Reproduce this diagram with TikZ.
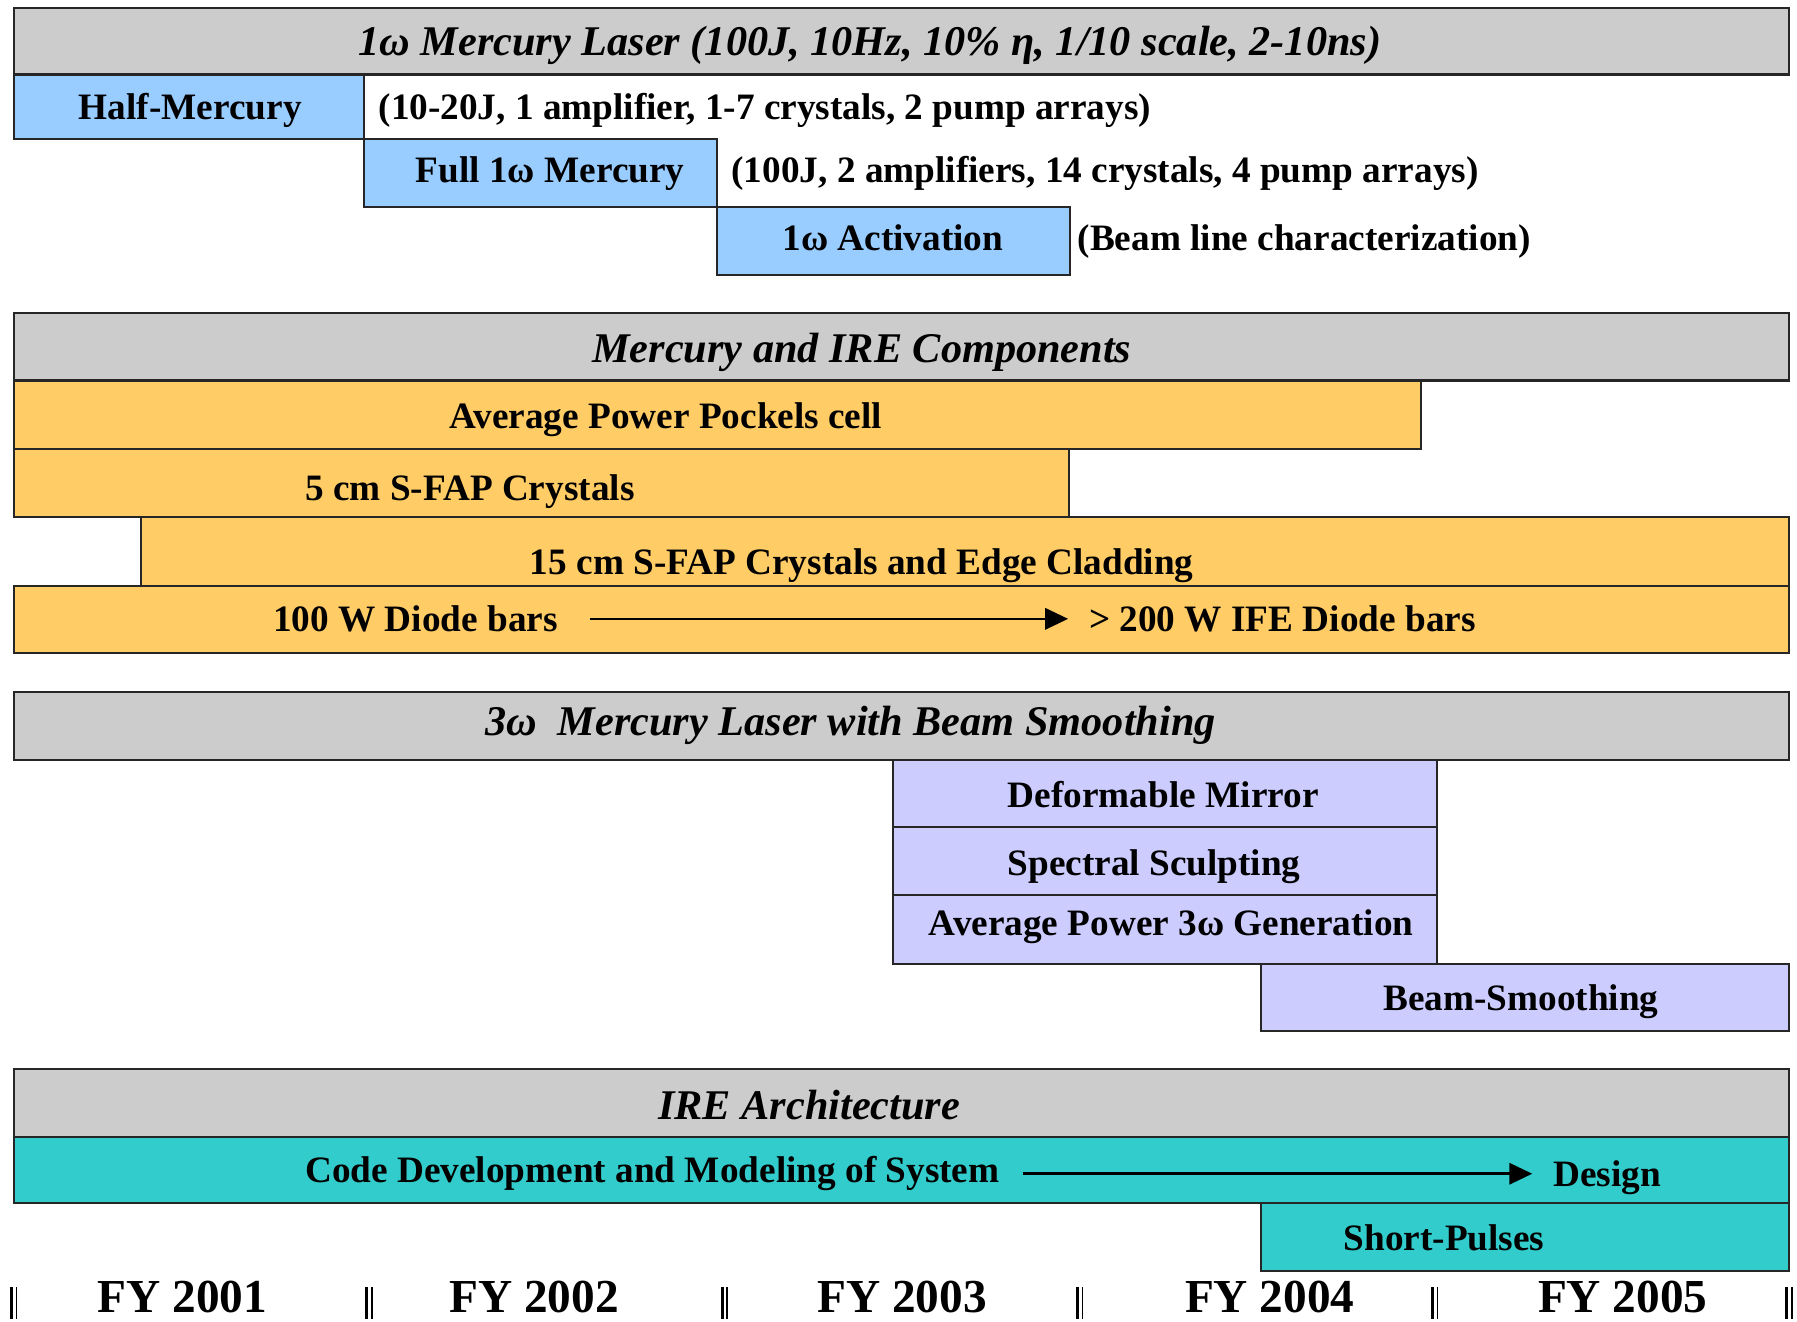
\documentclass[tikz,border=0pt]{standalone}
\usepackage{fontspec}
\setmainfont{Liberation Serif}
\usepackage{tikz}
\usepackage{xcolor}
\usetikzlibrary{
    arrows.meta,
    calc,
    positioning
}
\definecolor{hdrgray}{RGB}{204,204,204}
\definecolor{laserblue}{RGB}{153,204,255}
\definecolor{partorange}{RGB}{255,204,102}
\definecolor{optlilac}{RGB}{204,204,255}
\definecolor{codeteal}{RGB}{51,204,204}

\begin{document}
\begin{tikzpicture}[x=0.02cm, y=-0.02cm,
        titlebox/.style={draw=black!85, line width=1pt, fill=hdrgray},
        laserbox/.style={draw=black!85, line width=1pt, fill=laserblue},
        partbox/.style={draw=black!85, line width=1pt, fill=partorange},
        optbox/.style={draw=black!85, line width=1pt, fill=optlilac},
        codebox/.style={draw=black!85, line width=1pt, fill=codeteal},
        ttl/.style={anchor=base, inner sep=0pt, font=\bfseries\itshape\fontsize{21}{25}\selectfont},
        txt/.style={anchor=base, inner sep=0pt, font=\bfseries\fontsize{18.5}{22}\selectfont},
        note/.style={txt, anchor=base west},
        yr/.style={anchor=base, inner sep=0pt, font=\bfseries\fontsize{23.5}{28}\selectfont},
        arr/.style={-{Triangle[length=0.4cm, width=0.37cm]}, line width=1.3pt}]
    \useasboundingbox (0,0) rectangle (1568,1153);

    % 1w Mercury laser
    \begin{scope}[shift={(0,7)}]
        \draw[titlebox] (12,0) rectangle (1561,58);
        \draw[laserbox] (12,58) rectangle (318,114);
        \draw[laserbox] (318,114) rectangle (626,174);
        \draw[laserbox] (626,174) rectangle (934,233);

        \node[ttl] (mercury) at (759,41) {1ω Mercury Laser (100J, 10Hz, 10\% η, 1/10 scale, 2-10ns)};
        \node[txt] (half) at (166,97) {Half-Mercury};
        \node[note] (halfinfo) at (330,97) {(10-20J, 1 amplifier, 1-7 crystals, 2 pump arrays)};
        \node[txt] (full) at (480,152) {Full 1ω Mercury};
        \node[note] (fullinfo) at (638,152) {(100J, 2 amplifiers, 14 crystals, 4 pump arrays)};
        \node[txt] (activ) at (779,212) {1ω Activation};
        \node[note] (activinfo) at (940,212) {(Beam line characterization)};
    \end{scope}

    % components
    \begin{scope}[shift={(0,273)}]
        \draw[titlebox] (12,0) rectangle (1561,59);
        \draw[partbox] (12,59) rectangle (1240,119);
        \draw[partbox] (12,119) rectangle (933,178);
        \draw[partbox] (123,178) rectangle (1561,238);
        \draw[partbox] (12,238) rectangle (1561,297);

        \node[ttl] (parts) at (752,43) {Mercury and IRE Components};
        \node[txt] (pockels) at (581,101) {Average Power Pockels cell};
        \node[txt] (sfapfive) at (410,164) {5 cm S-FAP Crystals};
        \node[txt] (sfapfifteen) at (752,228) {15 cm S-FAP Crystals and Edge Cladding};
        \node[note] (diodeold) at (238,278) {100 W Diode bars};
        \node[note] (diodenew) at (950,278) {> 200 W IFE Diode bars};

        \draw[arr, shorten <=0.56cm, shorten >=0.36cm] (diodeold.east) -- (diodenew.west);
    \end{scope}

    % 3w laser
    \begin{scope}[shift={(0,604)}]
        \draw[titlebox] (12,0) rectangle (1561,59);
        \draw[optbox] (779,59) rectangle (1254,118);
        \draw[optbox] (779,118) rectangle (1254,177);
        \draw[optbox] (779,177) rectangle (1254,237);
        \draw[optbox] (1100,237) rectangle (1561,296);

        \node[ttl] (thirdharm) at (742,38) {3ω\ \ Mercury Laser with Beam Smoothing};
        \node[txt] (mirror) at (1015,101) {Deformable Mirror};
        \node[txt] (sculpt) at (1007,160) {Spectral Sculpting};
        \node[txt] (gen) at (1022,212) {Average Power 3ω Generation};
        \node[txt] (smooth) at (1327,278) {Beam-Smoothing};
    \end{scope}

    % architecture + years
    \begin{scope}[shift={(0,933)}]
        \draw[titlebox] (12,0) rectangle (1561,59);
        \draw[codebox] (12,59) rectangle (1561,117);
        \draw[codebox] (1100,117) rectangle (1561,176);

        \node[ttl] (arch) at (706,44) {IRE Architecture};
        \node[note] (code) at (266,99) {Code Development and Modeling of System};
        \node[note] (design) at (1355,102) {Design};
        \node[txt] (pulses) at (1260,158) {Short-Pulses};

        \draw[arr, shorten <=0.4cm, shorten >=0.36cm] (code.east) -- (code.east -| design.west);

        \node[yr] (fya) at (159,212) {FY 2001};
        \node[yr] (fyb) at (466,212) {FY 2002};
        \node[yr] (fyc) at (787,212) {FY 2003};
        \node[yr] (fyd) at (1108,212) {FY 2004};
        \node[yr] (fye) at (1416,212) {FY 2005};

        % year dividers
        \foreach \x in {12, 322, 632, 942, 1252, 1561} {
            \draw[line width=1.5pt] (\x-2,190) -- (\x-2,218);
            \draw[line width=0.7pt] (\x+2.5,190) -- (\x+2.5,218);
        }
    \end{scope}
\end{tikzpicture}
\end{document}
